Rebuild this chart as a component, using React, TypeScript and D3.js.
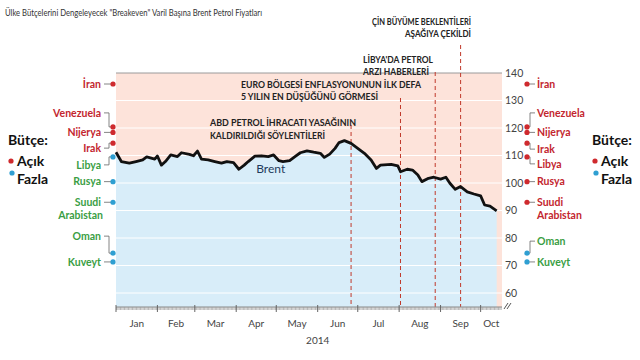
import React from 'react';
import * as d3 from 'd3';

// ---------- DATA ----------
const brentDates = [
  '2014-01-01','2014-01-05','2014-01-11','2014-01-16','2014-01-21','2014-01-24','2014-01-30',
  '2014-02-01','2014-02-04','2014-02-07','2014-02-11','2014-02-16','2014-02-19','2014-02-25','2014-02-28',
  '2014-03-03','2014-03-06','2014-03-11','2014-03-16','2014-03-21','2014-03-25','2014-03-30',
  '2014-04-03','2014-04-07','2014-04-10','2014-04-15','2014-04-20','2014-04-25','2014-04-29',
  '2014-05-03','2014-05-06','2014-05-11','2014-05-15','2014-05-19','2014-05-24','2014-05-29',
  '2014-06-03','2014-06-06','2014-06-10','2014-06-14','2014-06-17','2014-06-21','2014-06-26',
  '2014-07-01','2014-07-06','2014-07-11','2014-07-15','2014-07-18','2014-07-26','2014-07-31',
  '2014-08-02','2014-08-07','2014-08-11','2014-08-15','2014-08-18','2014-08-23','2014-08-27',
  '2014-09-01','2014-09-05','2014-09-08','2014-09-12','2014-09-16','2014-09-21','2014-09-26',
  '2014-10-01','2014-10-04','2014-10-08','2014-10-13'
];
const brentValues = [
  111.2, 107.8, 107.2, 107.8, 108.4, 109.5, 108.7,
  109.8, 106.5, 107.8, 110.2, 109.6, 111.0, 110.4, 109.9,
  111.6, 108.7, 108.4, 107.8, 107.2, 107.8, 107.4,
  105.0, 106.5, 107.8, 109.8, 109.9, 109.6, 110.2,
  108.1, 107.8, 108.1, 109.6, 111.0, 111.7, 111.2,
  110.8, 109.3, 110.5, 112.6, 114.7, 115.4, 114.4,
  112.6, 110.8, 108.4, 105.3, 106.5, 106.8, 106.2,
  104.1, 105.0, 104.7, 102.9, 100.5, 101.7, 102.1,
  101.4, 102.1, 99.9, 97.7, 98.7, 96.8, 96.0,
  95.3, 92.0, 91.6, 89.9
];

const countries = ['İran', 'Venezuela', 'Nijerya', 'Irak', 'Libya', 'Rusya', 'Suudi Arabistan', 'Oman', 'Kuveyt'];
const breakeven = [136, 120.4, 118.4, 114.5, 109.5, 100.5, 93, 74.5, 71.3];

const yTicks = [140, 130, 120, 110, 100, 90, 80, 70, 60];
const monthLabels = ['Jan', 'Feb', 'Mar', 'Apr', 'May', 'Jun', 'Jul', 'Aug', 'Sep', 'Oct'];
const yearLabel = '2014';

const eventDates = ['2014-06-26', '2014-08-02', '2014-08-28', '2014-09-16'];
const eventTexts = [
  ['ABD PETROL İHRACATI YASAĞININ', 'KALDIRILDIĞI SÖYLENTİLERİ'],
  ['EURO BÖLGESİ ENFLASYONUNUN İLK DEFA', '5 YILIN EN DÜŞÜĞÜNÜ GÖRMESİ'],
  ["LİBYA'DA PETROL", 'ARZI HABERLERİ'],
  ['ÇİN BÜYÜME BEKLENTİLERİ', 'AŞAĞIYA ÇEKİLDİ'],
];

const subtitle = 'Ülke Bütçelerini Dengeleyecek "Breakeven" Varil Başına Brent Petrol Fiyatları';
const legendTitle = 'Bütçe:';
const legendDeficit = 'Açık';
const legendSurplus = 'Fazla';
const seriesName = 'Brent';

// ---------- LAYOUT ----------
const W = 640, H = 360;
const plotL = 116, plotR = 502, plotBottom = 307;
const FONT = 'Lato, "Open Sans", sans-serif';
const RED_TXT = '#c3262e';
const GREEN_TXT = '#3a9e44';
const RED_DOT = '#cf2a2e';
const BLUE_DOT = '#2f9fd2';
const PINK = '#fde3da';
const BLUE = '#d8edf9';

// label offset (px) from dot for left and right side
const leftOffsets = [0, -14, 0, 5, 8, 0, 0, -17, 0];
const rightOffsets = [0, -14, 0, 6, 7, 0, 0, -12, 0];

// annotation layout: [x, y1, y2, anchor, width1, width2]
const annLayout: [number, number, number, 'start' | 'end', number, number][] = [
  [210, 126, 139, 'start', 146, 115],
  [241, 88, 100, 'start', 180, 137],
  [363, 63, 75, 'start', 70, 66],
  [471, 25, 37, 'end', 99, 66],
];
const dashTop = [125, 98, 72, 45];

export default function App() {
  const parse = d3.timeParse('%Y-%m-%d');
  const data = brentDates.map((d, i) => ({ date: parse(d) as Date, value: brentValues[i] }));

  const x = d3.scaleTime()
    .domain([new Date(2014, 0, 1), new Date(2014, 9, 17)])
    .range([plotL, plotR]);
  const y = d3.scaleLinear().domain([60, 140]).range([293, 73]);

  const line = d3.line<{ date: Date; value: number }>()
    .x(d => x(d.date))
    .y(d => y(d.value))
    .curve(d3.curveLinear);
  const area = d3.area<{ date: Date; value: number }>()
    .x(d => x(d.date))
    .y0(plotBottom)
    .y1(d => y(d.value));

  const startPrice = brentValues[0];
  const endPrice = brentValues[brentValues.length - 1];

  const days = d3.timeDay.range(x.domain()[0], x.domain()[1]);
  const months = d3.timeMonth.range(new Date(2014, 0, 1), new Date(2014, 10, 1));
  const domEnd = x.domain()[1];

  const monthMid = (i: number) => {
    const s = new Date(2014, i, 1);
    const e0 = new Date(2014, i + 1, 1);
    const e = e0 > domEnd ? domEnd : e0;
    return (x(s) + x(e)) / 2;
  };

  const leftDotX = 113, leftBrX = 109, leftLabelX = 103;
  const rightDotX = 527, rightBrX = 530, rightLabelX = 537;

  const renderLabel = (name: string, lx: number, ly: number, anchor: 'start' | 'end', color: string) => {
    const parts = name === 'Suudi Arabistan' ? ['Suudi', 'Arabistan'] : [name];
    return parts.map((p, j) => (
      <text key={j} x={lx + (anchor === 'end' && j === 1 ? 2 : 0)} y={ly + j * 13} dy="0.35em"
        textAnchor={anchor} fontFamily={FONT} fontWeight={700} fontSize={10.5} fill={color}>{p}</text>
    ));
  };

  return (
    <svg width={W} height={H} style={{ position: 'absolute', left: 0, top: 0, background: '#fff' }}>
      {/* subtitle */}
      <text x={5} y={12} dy="0.35em" fontFamily={FONT} fontSize={10} fill="#333"
        textLength={257} lengthAdjust="spacingAndGlyphs">{subtitle}</text>

      {/* background */}
      <rect x={plotL} y={y(140)} width={plotR - plotL} height={plotBottom - y(140)} fill={PINK} />
      <path d={area(data) || ''} fill={BLUE} />

      {/* gridlines */}
      {yTicks.slice(1).map(t => (
        <line key={t} x1={plotL} x2={plotR} y1={y(t)} y2={y(t)} stroke="#fff" strokeWidth={1} />
      ))}
      <line x1={plotL} x2={plotR} y1={y(140)} y2={y(140)} stroke="#9a9a9a" strokeWidth={1} />

      {/* y tick labels */}
      {yTicks.map(t => (
        <text key={t} x={505} y={y(t)} dy="0.35em" fontFamily={FONT} fontSize={10.5} fill="#444">{t}</text>
      ))}

      {/* event dashed lines */}
      {eventDates.map((d, i) => (
        <line key={d} x1={x(parse(d) as Date)} x2={x(parse(d) as Date)} y1={dashTop[i]} y2={plotBottom}
          stroke="#c0392b" strokeWidth={1} strokeDasharray="4,3" />
      ))}

      {/* Brent line */}
      <path d={line(data) || ''} fill="none" stroke="#111" strokeWidth={2.8} strokeLinejoin="round" />
      <text x={x(new Date(2014, 3, 16))} y={169} dy="0.35em" fontFamily={FONT} fontSize={12} fill="#1e3a5c">{seriesName}</text>

      {/* annotations */}
      {eventTexts.map((lines, i) => {
        const [ax, y1, y2, anchor, w1, w2] = annLayout[i];
        return (
          <g key={i}>
            <text x={ax} y={y1} textAnchor={anchor} fontFamily={FONT} fontWeight={700} fontSize={9.5} fill="#222"
              textLength={w1} lengthAdjust="spacingAndGlyphs">{lines[0]}</text>
            <text x={ax} y={y2} textAnchor={anchor} fontFamily={FONT} fontWeight={700} fontSize={9.5} fill="#222"
              textLength={w2} lengthAdjust="spacingAndGlyphs">{lines[1]}</text>
          </g>
        );
      })}

      {/* x axis */}
      <line x1={plotL} x2={plotR} y1={plotBottom} y2={plotBottom} stroke="#888" strokeWidth={1} />
      {days.map((d, i) => (
        <line key={i} x1={x(d) + 0.5} x2={x(d) + 0.5} y1={plotBottom} y2={plotBottom + 3} stroke="#999" strokeWidth={0.7} />
      ))}
      {months.filter(m => m <= domEnd).map((m, i) => (
        <line key={'m' + i} x1={x(m)} x2={x(m)} y1={plotBottom - 2} y2={plotBottom + 5} stroke="#666" strokeWidth={1} />
      ))}
      {monthLabels.map((m, i) => (
        <text key={m} x={monthMid(i)} y={323} dy="0.35em" textAnchor="middle" fontFamily={FONT} fontSize={10} fill="#444">{m}</text>
      ))}
      <text x={x(new Date(2014, 5, 1))} y={340} dy="0.35em" textAnchor="middle" fontFamily={FONT} fontSize={10} fill="#444">{yearLabel}</text>
      {/* axis break */}
      <g stroke="#555" strokeWidth={1} fill="none">
        <path d={`M${plotR + 2},${plotBottom + 2} L${plotR + 6},${plotBottom - 4}`} />
        <path d={`M${plotR + 5},${plotBottom + 2} L${plotR + 9},${plotBottom - 4}`} />
      </g>

      {/* left country markers */}
      {countries.map((c, i) => {
        const dy = y(breakeven[i]);
        const ly = dy + leftOffsets[i];
        const deficit = breakeven[i] > startPrice;
        const bracket = leftOffsets[i] !== 0
          ? `M${leftLabelX + 1},${ly} L${leftBrX},${ly} L${leftBrX},${dy} L${leftDotX},${dy}`
          : `M${leftLabelX + 1},${dy} L${leftDotX},${dy}`;
        return (
          <g key={'l' + c}>
            <path d={bracket} fill="none" stroke="#666" strokeWidth={0.8} />
            <circle cx={leftDotX} cy={dy} r={2.6} fill={deficit ? RED_DOT : BLUE_DOT} />
            {renderLabel(c, leftLabelX - 2, ly, 'end', deficit ? RED_TXT : GREEN_TXT)}
          </g>
        );
      })}

      {/* right country markers */}
      {countries.map((c, i) => {
        const dy = y(breakeven[i]);
        const ly = dy + rightOffsets[i];
        const deficit = breakeven[i] > endPrice;
        const bracket = rightOffsets[i] !== 0
          ? `M${rightDotX},${dy} L${rightBrX},${dy} L${rightBrX},${ly} L${rightLabelX - 2},${ly}`
          : `M${rightDotX},${dy} L${rightLabelX - 2},${dy}`;
        return (
          <g key={'r' + c}>
            <path d={bracket} fill="none" stroke="#666" strokeWidth={0.8} />
            <circle cx={rightDotX} cy={dy} r={2.6} fill={deficit ? RED_DOT : BLUE_DOT} />
            {renderLabel(c, rightLabelX, ly, 'start', deficit ? RED_TXT : GREEN_TXT)}
          </g>
        );
      })}

      {/* legends */}
      {[8, 592].map((lx, k) => (
        <g key={'lg' + k}>
          <text x={lx} y={140} dy="0.35em" fontFamily={FONT} fontWeight={700} fontSize={14} fill="#111">{legendTitle}</text>
          <circle cx={lx + 3} cy={161} r={2.6} fill={RED_DOT} />
          <text x={lx + 9} y={161} dy="0.35em" fontFamily={FONT} fontWeight={700} fontSize={14} fill="#111">{legendDeficit}</text>
          <circle cx={lx + 4} cy={173} r={2.6} fill={BLUE_DOT} />
          <text x={lx + 9} y={179} dy="0.35em" fontFamily={FONT} fontWeight={700} fontSize={14} fill="#111">{legendSurplus}</text>
        </g>
      ))}
    </svg>
  );
}
